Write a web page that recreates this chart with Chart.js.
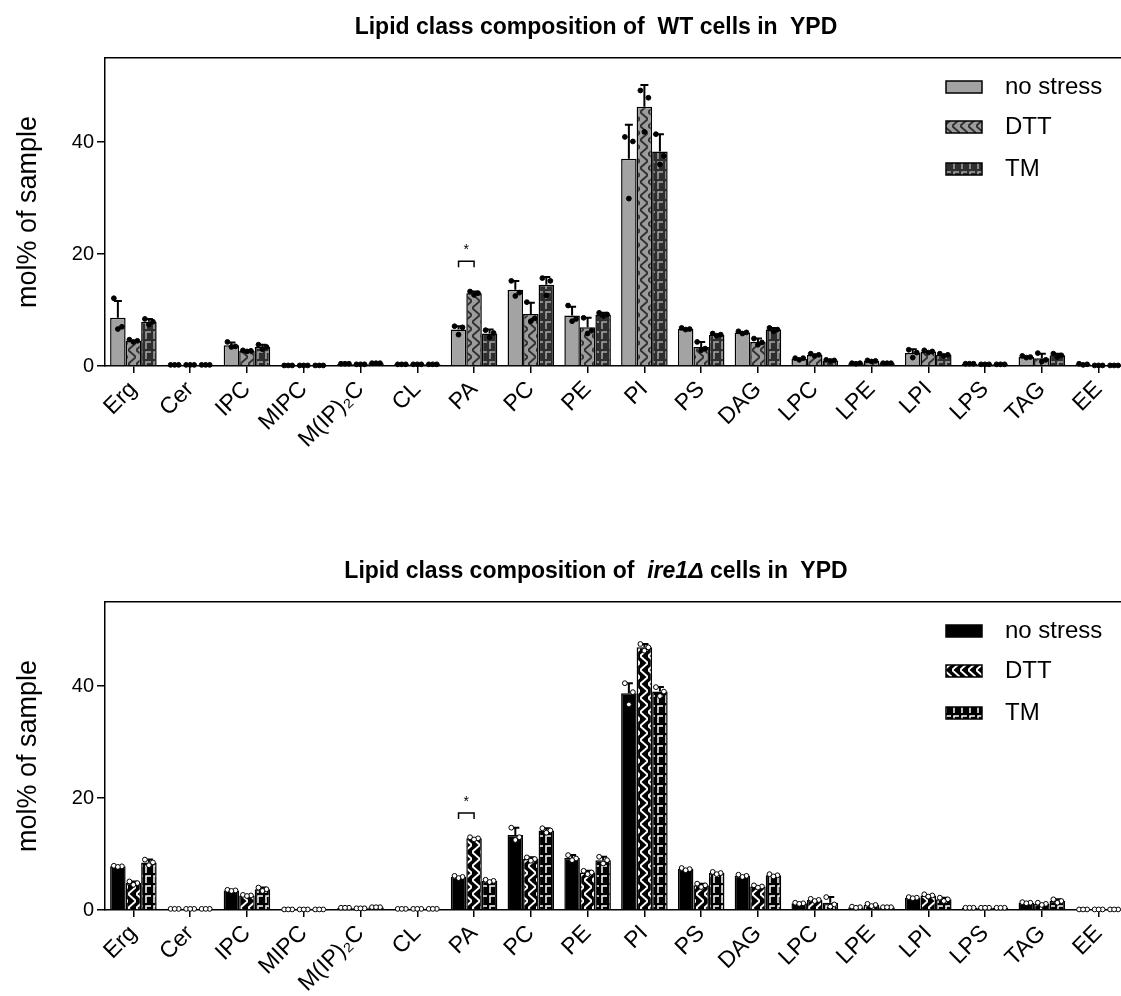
<!DOCTYPE html>
<html>
<head>
<meta charset="utf-8">
<script src="https://cdn.jsdelivr.net/npm/chart.js@4.4.1/dist/chart.umd.min.js"></script>
<style>
  html, body { margin: 0; padding: 0; overflow: hidden; background: #fff; width: 1121px; height: 996px; }
  canvas { position: absolute; left: 0; }
  .title { position: absolute; left: 596px; transform: translateX(-50%); font: bold 23px 'Liberation Sans', Arial, sans-serif; white-space: pre; color: #000; z-index: 2; }
</style>
</head>
<body>
<canvas id="wt" width="1130" height="480" style="top:0"></canvas>
<canvas id="ire1" width="1130" height="480" style="top:544px"></canvas>
<div class="title" style="top:13px">Lipid class composition of  WT cells in  YPD</div>
<div class="title" style="top:557px">Lipid class composition of  <i>ire1Δ</i> cells in  YPD</div>
<script>
const categories = ['Erg', 'Cer', 'IPC', 'MIPC', 'M(IP)₂C', 'CL', 'PA', 'PC', 'PE', 'PI', 'PS', 'DAG', 'LPC', 'LPE', 'LPI', 'LPS', 'TAG', 'EE'];
const conditions = ['no stress', 'DTT', 'TM'];
const yTicks = [0, 20, 40];

// WT cells (mean, SD, replicates)
const wtNoStress = [8.6, 0.2, 3.7, 0.1, 0.4, 0.3, 6.5, 13.6, 9.0, 37.0, 6.6, 6.0, 1.3, 0.5, 2.3, 0.4, 1.6, 0.3];
const wtNoStressSd = [3.0, 0, 0.5, 0, 0, 0, 0.6, 1.6, 1.6, 6.1, 0.2, 0.2, 0.2, 0.1, 0.7, 0, 0.2, 0.1];
const wtNoStressReps = [[12.1, 7.0, 6.6], [0.2, 0.2, 0.2], [4.3, 3.5, 3.4], [0.1, 0.1, 0.1], [0.4, 0.4, 0.4], [0.3, 0.3, 0.3],
  [7.1, 6.9, 5.6], [15.2, 13.1, 12.5], [10.8, 8.4, 8.0], [40.9, 40.1, 29.9], [6.8, 6.6, 6.5], [6.2, 6.0, 5.8],
  [1.4, 1.4, 1.1], [0.5, 0.5, 0.4], [2.9, 2.4, 1.5], [0.4, 0.4, 0.4], [1.8, 1.6, 1.5], [0.4, 0.3, 0.2]];

const wtDtt = [4.5, 0.2, 2.7, 0.1, 0.3, 0.3, 13.0, 9.3, 6.9, 46.3, 3.4, 4.3, 2.0, 0.9, 2.6, 0.3, 1.4, 0.1];
const wtDttSd = [0.2, 0, 0.1, 0, 0, 0, 0.3, 2.0, 1.7, 3.9, 0.9, 0.6, 0.2, 0.1, 0.2, 0, 0.8, 0];
const wtDttReps = [[4.7, 4.5, 4.3], [0.2, 0.2, 0.2], [2.8, 2.7, 2.6], [0.1, 0.1, 0.1], [0.3, 0.3, 0.3], [0.3, 0.3, 0.3],
  [13.3, 13.0, 12.7], [11.4, 8.5, 8.0], [8.6, 6.3, 5.8], [49.2, 47.9, 41.8], [4.3, 3.1, 2.8], [4.9, 4.2, 3.8],
  [2.2, 2.0, 1.8], [1.0, 0.9, 0.8], [2.8, 2.6, 2.4], [0.3, 0.3, 0.3], [2.3, 1.1, 0.8], [0.1, 0.1, 0.1]];

const wtTm = [7.9, 0.2, 3.4, 0.1, 0.5, 0.3, 5.8, 14.5, 9.2, 38.3, 5.6, 6.5, 1.0, 0.5, 2.0, 0.3, 1.9, 0.1];
const wtTmSd = [0.5, 0, 0.4, 0, 0, 0, 0.7, 1.4, 0.3, 3.1, 0.2, 0.3, 0.1, 0.1, 0.2, 0, 0.3, 0];
const wtTmReps = [[8.4, 7.9, 7.4], [0.2, 0.2, 0.2], [3.8, 3.4, 3.0], [0.1, 0.1, 0.1], [0.5, 0.5, 0.5], [0.3, 0.3, 0.3],
  [6.4, 5.9, 5.1], [15.7, 15.2, 12.6], [9.5, 9.2, 8.9], [41.4, 37.5, 36.0], [5.8, 5.6, 5.4], [6.8, 6.5, 6.2],
  [1.1, 1.0, 0.9], [0.5, 0.5, 0.5], [2.2, 2.0, 1.8], [0.3, 0.3, 0.3], [2.2, 1.9, 1.6], [0.1, 0.1, 0.1]];

// ire1Δ cells
const ireNoStress = [7.8, 0.2, 3.5, 0.1, 0.4, 0.2, 5.9, 13.4, 9.3, 38.7, 7.3, 6.1, 1.2, 0.5, 2.2, 0.4, 1.3, 0.1];
const ireNoStressSd = [0.1, 0, 0.1, 0, 0, 0, 0.2, 1.3, 0.5, 1.8, 0.2, 0.2, 0.1, 0.1, 0.1, 0, 0.1, 0];
const ireNoStressReps = [[7.9, 7.8, 7.7], [0.2, 0.2, 0.2], [3.6, 3.5, 3.4], [0.1, 0.1, 0.1], [0.4, 0.4, 0.4], [0.2, 0.2, 0.2],
  [6.1, 5.9, 5.7], [14.7, 13.0, 12.5], [9.8, 9.2, 8.9], [40.5, 38.9, 36.7], [7.5, 7.3, 7.1], [6.3, 6.1, 5.9],
  [1.3, 1.2, 1.1], [0.6, 0.5, 0.4], [2.3, 2.2, 2.1], [0.4, 0.4, 0.4], [1.4, 1.3, 1.2], [0.1, 0.1, 0.1]];

const ireDtt = [4.8, 0.2, 2.6, 0.1, 0.3, 0.2, 12.8, 9.1, 6.7, 46.9, 4.4, 4.2, 1.8, 0.9, 2.6, 0.4, 1.1, 0.1];
const ireDttSd = [0.3, 0, 0.1, 0, 0, 0, 0.2, 0.3, 0.3, 0.6, 0.3, 0.2, 0.2, 0.2, 0.2, 0, 0.2, 0];
const ireDttReps = [[5.1, 4.8, 4.5], [0.2, 0.2, 0.2], [2.7, 2.6, 2.5], [0.1, 0.1, 0.1], [0.3, 0.3, 0.3], [0.2, 0.2, 0.2],
  [13.0, 12.8, 12.6], [9.4, 9.1, 8.8], [7.0, 6.7, 6.4], [47.5, 46.9, 46.3], [4.7, 4.4, 4.1], [4.4, 4.2, 4.0],
  [2.0, 1.8, 1.6], [1.1, 0.9, 0.7], [2.8, 2.6, 2.4], [0.4, 0.4, 0.4], [1.3, 1.1, 0.9], [0.1, 0.1, 0.1]];

const ireTm = [8.5, 0.2, 3.7, 0.1, 0.5, 0.2, 5.2, 14.2, 8.9, 39.0, 6.6, 6.2, 1.3, 0.5, 1.9, 0.4, 1.6, 0.1];
const ireTmSd = [0.5, 0, 0.3, 0, 0, 0, 0.2, 0.4, 0.6, 0.8, 0.2, 0.2, 1.0, 0.1, 0.3, 0, 0.3, 0];
const ireTmReps = [[9.0, 8.5, 8.0], [0.2, 0.2, 0.2], [4.0, 3.7, 3.4], [0.1, 0.1, 0.1], [0.5, 0.5, 0.5], [0.2, 0.2, 0.2],
  [5.4, 5.2, 5.0], [14.6, 14.2, 13.8], [9.5, 8.9, 8.3], [39.8, 39.0, 38.2], [6.8, 6.6, 6.4], [6.4, 6.2, 6.0],
  [2.3, 1.0, 0.6], [0.5, 0.5, 0.5], [2.2, 1.9, 1.6], [0.4, 0.4, 0.4], [1.9, 1.6, 1.3], [0.1, 0.1, 0.1]];

// significance bracket over PA (no stress vs DTT)
const wtSig = { category: 'PA', bracket: 18.7, star: 21.2 };
const ireSig = { category: 'PA', bracket: 17.3, star: 19.8 };

Chart.defaults.font.family = "'Liberation Sans', Arial, sans-serif";
Chart.defaults.color = '#000';

function makePattern(bg, fg, kind) {
  const c = document.createElement('canvas');
  const g = c.getContext('2d');
  if (kind === 'zigzag') {
    c.width = 8; c.height = 14;
    g.fillStyle = bg; g.fillRect(0, 0, 8, 14);
    g.strokeStyle = fg; g.lineWidth = 2;
    g.beginPath(); g.moveTo(0, 0); g.lineTo(8, 7); g.lineTo(0, 14); g.stroke();
  } else if (kind === 'gamma') {
    c.width = 8; c.height = 10;
    g.fillStyle = bg; g.fillRect(0, 0, 8, 10);
    g.strokeStyle = fg; g.lineWidth = 1.5;
    g.beginPath(); g.moveTo(2, 9); g.lineTo(2, 2); g.lineTo(7, 2); g.stroke();
  } else {
    return bg;
  }
  return g.createPattern(c, 'repeat');
}

const extras = {
  id: 'extras',
  afterDatasetsDraw(chart, args, opts) {
    const ctx = chart.ctx, y = chart.scales.y;
    ctx.save();
    // error bars (upper only)
    chart.data.datasets.forEach((ds, i) => {
      chart.getDatasetMeta(i).data.forEach((bar, j) => {
        const yTop = y.getPixelForValue(ds.data[j] + ds.sd[j]);
        if (bar.y - yTop < 1.5) return;
        ctx.strokeStyle = '#000'; ctx.lineWidth = 2;
        ctx.beginPath();
        ctx.moveTo(bar.x, bar.y); ctx.lineTo(bar.x, yTop);
        ctx.moveTo(bar.x - 4, yTop); ctx.lineTo(bar.x + 4, yTop);
        ctx.stroke();
      });
    });
    // replicate dots
    const offs = [-4, 4, 0];
    chart.data.datasets.forEach((ds, i) => {
      chart.getDatasetMeta(i).data.forEach((bar, j) => {
        ds.reps[j].forEach((v, k) => {
          ctx.beginPath();
          ctx.arc(bar.x + offs[k], y.getPixelForValue(v), 2.4, 0, Math.PI * 2);
          ctx.fillStyle = opts.dotFill; ctx.fill();
          ctx.strokeStyle = '#000'; ctx.lineWidth = 1; ctx.stroke();
        });
      });
    });
    // significance bracket
    const idx = categories.indexOf(opts.sig.category);
    const b0 = chart.getDatasetMeta(0).data[idx], b1 = chart.getDatasetMeta(1).data[idx];
    const by = y.getPixelForValue(opts.sig.bracket);
    ctx.strokeStyle = '#000'; ctx.lineWidth = 1.5;
    ctx.beginPath();
    ctx.moveTo(b0.x, by + 6); ctx.lineTo(b0.x, by); ctx.lineTo(b1.x, by); ctx.lineTo(b1.x, by + 6);
    ctx.stroke();
    ctx.fillStyle = '#000'; ctx.font = "14px 'Liberation Sans', Arial, sans-serif";
    ctx.textAlign = 'center'; ctx.textBaseline = 'middle';
    ctx.fillText('*', (b0.x + b1.x) / 2, y.getPixelForValue(opts.sig.star) + 3);
    ctx.restore();
  },
  afterDraw(chart, args, opts) {
    const ctx = chart.ctx, top = chart.chartArea.top;
    ctx.save();
    chart.data.datasets.forEach((ds, i) => {
      const cy = top + opts.rows[i];
      ctx.fillStyle = ds.backgroundColor;
      ctx.fillRect(946, cy - 6, 36, 12);
      ctx.strokeStyle = '#000'; ctx.lineWidth = 1.5;
      ctx.strokeRect(946, cy - 6, 36, 12);
      ctx.fillStyle = '#000';
      ctx.font = "24px 'Liberation Sans', Arial, sans-serif";
      ctx.textAlign = 'left'; ctx.textBaseline = 'middle';
      ctx.fillText(ds.label, 1005, cy);
    });
    ctx.restore();
  }
};

function makeChart(id, means, sds, reps, fills, dotFill, sig) {
  new Chart(document.getElementById(id), {
    type: 'bar',
    data: {
      labels: categories,
      datasets: means.map((m, i) => ({
        label: conditions[i],
        data: m,
        sd: sds[i],
        reps: reps[i],
        backgroundColor: fills[i],
        borderColor: '#000',
        borderWidth: 1.5,
        categoryPercentage: 0.82,
        barPercentage: 1
      }))
    },
    options: {
      responsive: false,
      animation: false,
      devicePixelRatio: 1,
      layout: { padding: { top: 58, right: 3, left: 0, bottom: 0 } },
      plugins: {
        legend: { display: false },
        tooltip: { enabled: false },
        extras: { rows: [29, 69, 111], dotFill: dotFill, sig: sig }
      },
      scales: {
        x: {
          ticks: { font: { size: 23 }, color: '#000', maxRotation: 45, minRotation: 45, autoSkip: false, padding: 3 },
          grid: { drawOnChartArea: false, offset: false, tickLength: 7, color: '#000', lineWidth: 1.5 },
          border: { color: '#000', width: 1.5 },
          afterFit(s) { s.height = 114; }
        },
        x2: {
          position: 'top',
          grid: { display: false },
          ticks: { display: false },
          border: { display: true, color: '#000', width: 1.5 },
          afterFit(s) { s.height = 0; }
        },
        y: {
          min: 0,
          max: 55,
          afterBuildTicks(s) { s.ticks = yTicks.map(v => ({ value: v })); },
          ticks: { font: { size: 20 }, color: '#000', padding: 3 },
          grid: { drawOnChartArea: false, tickLength: 8, color: '#000', lineWidth: 1.5 },
          border: { color: '#000', width: 1.5 },
          title: { display: true, text: 'mol% of sample', font: { size: 27 }, color: '#000', padding: { top: 12, bottom: 0 } },
          afterFit(s) { s.width = 105; }
        }
      }
    },
    plugins: [extras]
  });
}

makeChart('wt',
  [wtNoStress, wtDtt, wtTm],
  [wtNoStressSd, wtDttSd, wtTmSd],
  [wtNoStressReps, wtDttReps, wtTmReps],
  ['#a3a3a3', makePattern('#9c9c9c', '#303030', 'zigzag'), makePattern('#2e2e2e', '#a8a8a8', 'gamma')],
  '#000', wtSig);

makeChart('ire1',
  [ireNoStress, ireDtt, ireTm],
  [ireNoStressSd, ireDttSd, ireTmSd],
  [ireNoStressReps, ireDttReps, ireTmReps],
  ['#000', makePattern('#000', '#fff', 'zigzag'), makePattern('#000', '#fff', 'gamma')],
  '#fff', ireSig);
</script>
</body>
</html>
